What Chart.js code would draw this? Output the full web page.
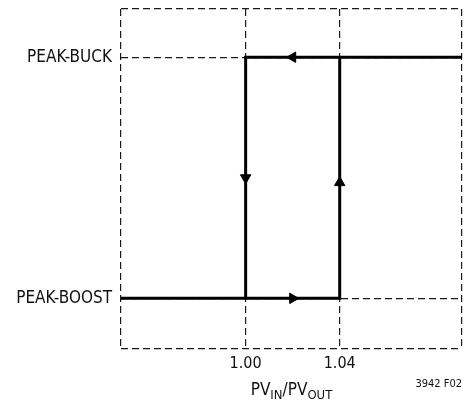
<!DOCTYPE html>
<html>
<head>
<meta charset="utf-8">
<script src="https://cdn.jsdelivr.net/npm/chart.js@4/dist/chart.umd.min.js"></script>
<style>
	html, body { margin: 0; padding: 0; background: #fff; }
	#wrap { width: 465px; height: 402px; position: relative; }
</style>
</head>
<body>
<div id="wrap"><canvas id="myChart" width="465" height="402"></canvas></div>
<script>
(function(){

	"use strict";

// Axis ranges
	const xMin = 0.947;
	const xMax = 1.092;
	const yMin = -0.21;
	const yMax = 1.2;

// Tick values and labels
	const xTicks = [1.00, 1.04];
	const xTickLabels = ['1.00', '1.04'];
	const yTicks = [0, 1];
	const yTickLabels = ['PEAK-BOOST', 'PEAK-BUCK'];

// Hysteresis paths (PVIN/PVOUT, mode level)
	const downPathX = [xMax, 1.00, 1.00];
	const downPathY = [1, 1, 0];
	const upPathX = [xMin, 1.04, 1.04];
	const upPathY = [0, 0, 1];

// Direction arrows
	const arrowX = [1.02, 1.00, 1.02, 1.04];
	const arrowY = [1, 0.5, 0, 0.48];
	const arrowRot = [270, 180, 90, 0];

	const fontName = '"DejaVu Sans Condensed", "Liberation Sans Narrow", sans-serif';
	const dash = [7, 4];
	const gridColor = '#1a1a1a';

	function toPoints(xs, ys){
		var pts = [];
		for(let i=0;i<xs.length;i++){
			pts.push({x: xs[i], y: ys[i]});
		}
		return pts;
	}

	// draws x title with subscripts and the figure tag
	const titlePlugin = {
		id: 'titlePlugin',
		afterDraw(chart){
			const ctx = chart.ctx;
			const area = chart.chartArea;
			const parts = [
				{t: 'PV', sub: false}, {t: 'IN', sub: true},
				{t: '/PV', sub: false}, {t: 'OUT', sub: true}
			];
			const big = '17px ' + fontName;
			const small = '13px ' + fontName;
			ctx.save();
			ctx.fillStyle = '#111';
			ctx.textBaseline = 'alphabetic';
			ctx.textAlign = 'left';
			var total = 0;
			parts.forEach(function(p){
				ctx.font = p.sub ? small : big;
				p.w = ctx.measureText(p.t).width;
				total += p.w;
			});
			var x = (area.left + area.right) / 2 - total / 2;
			const base = 395;
			parts.forEach(function(p){
				ctx.font = p.sub ? small : big;
				ctx.fillText(p.t, x, p.sub ? base + 4 : base);
				x += p.w;
			});
			ctx.font = '11px ' + fontName;
			ctx.textAlign = 'right';
			ctx.fillText('3942 F02', 462, 387);
			ctx.restore();
		}
	};

	const data = {
		datasets: [{
			label: 'down',
			data: toPoints(downPathX, downPathY),
			borderColor: '#000',
			borderWidth: 3,
			pointRadius: 0,
			showLine: true,
			tension: 0,
			borderCapStyle: 'butt',
			borderJoinStyle: 'miter'
		},
		{
			label: 'up',
			data: toPoints(upPathX, upPathY),
			borderColor: '#000',
			borderWidth: 3,
			pointRadius: 0,
			showLine: true,
			tension: 0,
			borderCapStyle: 'butt',
			borderJoinStyle: 'miter'
		},
		{
			label: 'arrows',
			data: toPoints(arrowX, arrowY),
			showLine: false,
			pointStyle: 'triangle',
			pointRotation: arrowRot,
			pointRadius: 6,
			pointBackgroundColor: '#000',
			pointBorderColor: '#000',
			pointBorderWidth: 1
		}]
	};

	const config = {
		type: 'scatter',
		data,
		options: {
			responsive: false,
			animation: false,
			layout: { autoPadding: false, padding: { top: 9, right: 3, left: 0, bottom: 0 } },
			plugins: { legend: { display: false }, tooltip: { enabled: false } },
			scales: {
				x: {
					type: 'linear',
					min: xMin,
					max: xMax,
					afterBuildTicks: function(scale){
						scale.ticks = [xMin].concat(xTicks, [xMax]).map(function(v){ return {value: v}; });
					},
					afterFit: function(scale){
						scale.height = 53;
						scale.paddingLeft = 0;
						scale.paddingRight = 0;
					},
					ticks: {
						autoSkip: false,
						maxRotation: 0,
						padding: 5,
						color: '#111',
						font: { family: fontName, size: 16 },
						callback: function(v){
							const i = xTicks.indexOf(v);
							return i >= 0 ? xTickLabels[i] : '';
						}
					},
					grid: { color: gridColor, lineWidth: 1.2, drawTicks: false, borderDash: dash },
					border: { display: false, dash: dash }
				},
				y: {
					type: 'linear',
					min: yMin,
					max: yMax,
					afterBuildTicks: function(scale){
						scale.ticks = [yMin].concat(yTicks, [yMax]).map(function(v){ return {value: v}; });
					},
					afterFit: function(scale){
						scale.width = 121;
						scale.paddingTop = 0;
						scale.paddingBottom = 0;
					},
					ticks: {
						autoSkip: false,
						padding: 9,
						color: '#111',
						font: { family: fontName, size: 17 },
						callback: function(v){
							const i = yTicks.indexOf(v);
							return i >= 0 ? yTickLabels[i] : '';
						}
					},
					grid: { color: gridColor, lineWidth: 1.2, drawTicks: false, borderDash: dash },
					border: { display: false, dash: dash }
				}
			}
		},
		plugins: [titlePlugin]
	};

	new Chart(document.getElementById('myChart'), config);

})();
</script>
</body>
</html>
